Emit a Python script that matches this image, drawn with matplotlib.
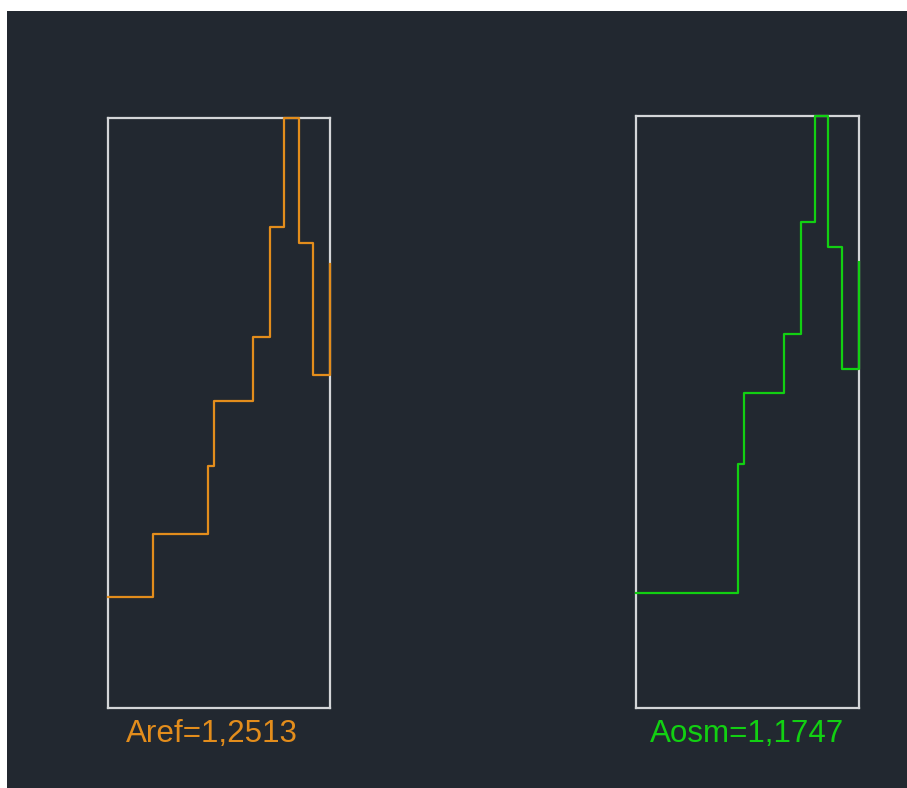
import matplotlib
matplotlib.use("Agg")
import matplotlib.pyplot as plt
from matplotlib.patches import Rectangle

# Step profiles (normalised position vs normalised level), drawn post-step
ref_x = [0.0, 0.203, 0.451, 0.477, 0.651, 0.729, 0.794, 0.860, 0.922, 1.0]
ref_y = [0.189, 0.295, 0.411, 0.521, 0.628, 0.815, 1.0, 0.788, 0.564, 0.753]

osm_x = [0.0, 0.459, 0.485, 0.664, 0.740, 0.803, 0.862, 0.922, 1.0]
osm_y = [0.194, 0.413, 0.532, 0.632, 0.821, 1.0, 0.780, 0.573, 0.754]

ref_label = "Aref=1,2513"
osm_label = "Aosm=1,1747"

BG = "#222830"
FRAME = "#d4d6d8"
ORANGE = "#e38d1c"
GREEN = "#12d012"

W, H = 907, 788
fig = plt.figure(figsize=(W / 100, H / 100), dpi=100, facecolor="white")
fig.patches.append(Rectangle((7 / W, 0), (W - 7) / W, (H - 11) / H,
                             transform=fig.transFigure, facecolor=BG,
                             edgecolor="none", zorder=-10))

panels = [
    ([108.3 / W, 79.7 / H, 221.7 / W, 590.6 / H], ref_x, ref_y, ORANGE, ref_label, 212 / W),
    ([635.7 / W, 79.7 / H, 223.3 / W, 592.0 / H], osm_x, osm_y, GREEN, osm_label, 747.5 / W),
]

for rect, xs, ys, color, label, tx in panels:
    ax = fig.add_axes(rect, zorder=2)
    ax.set_facecolor(BG)
    ax.plot(xs, ys, drawstyle="steps-post", color=color, lw=1.6,
            clip_on=False, zorder=3)
    ax.set_xlim(0, 1)
    ax.set_ylim(0, 1)
    ax.set_xticks([])
    ax.set_yticks([])
    for sp in ax.spines.values():
        sp.set_color(FRAME)
        sp.set_linewidth(1.6)
    fig.text(tx, (H - 741.7) / H, label, color=color, ha="center",
             va="baseline", fontsize=22.6, family="Liberation Sans",
             zorder=5)

fig.savefig("out.png", dpi=100, facecolor=fig.get_facecolor())
